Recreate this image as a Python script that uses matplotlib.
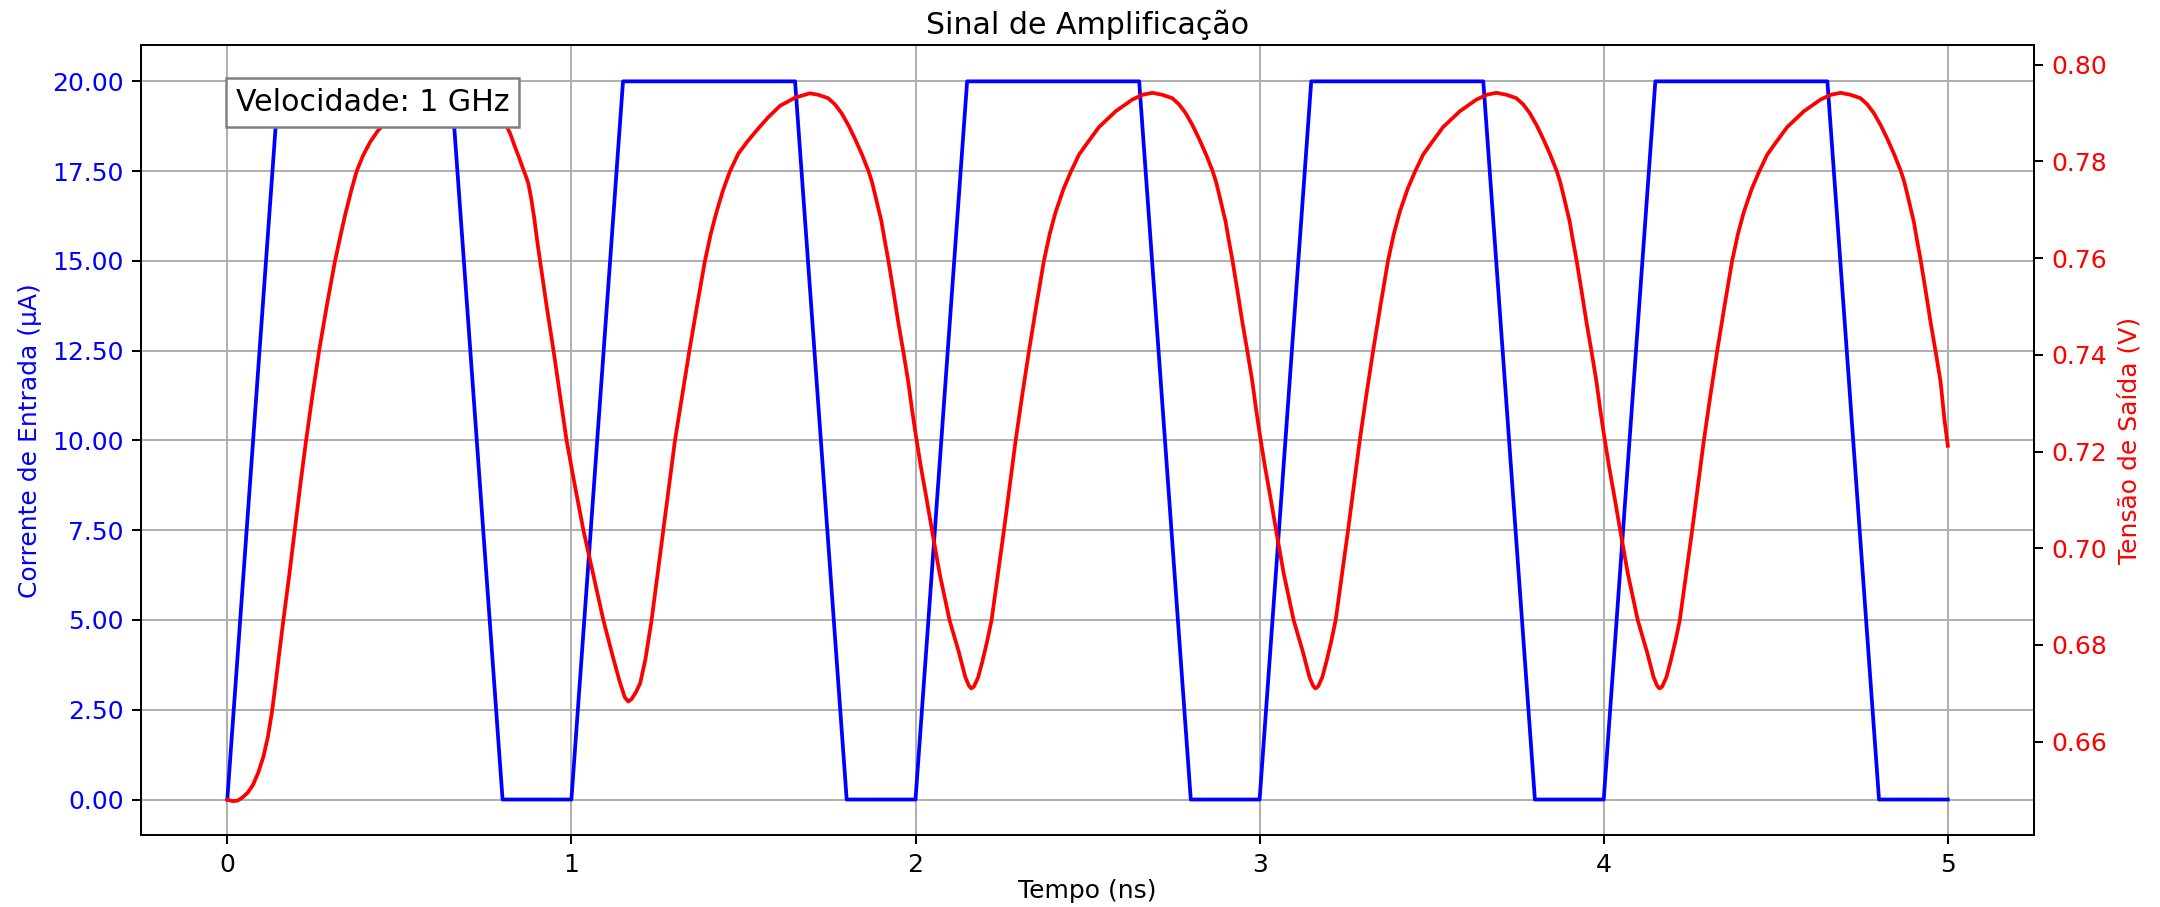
import matplotlib
matplotlib.use("Agg")
import matplotlib.pyplot as plt
from matplotlib.ticker import MultipleLocator, FormatStrFormatter

# ---- input current (trapezoidal pulses), µA vs ns ----
current_t = [0.0, 0.15, 0.65, 0.80, 1.0, 1.15, 1.65, 1.80, 2.0, 2.15, 2.65, 2.80,
             3.0, 3.15, 3.65, 3.80, 4.0, 4.15, 4.65, 4.80, 5.0]
current_i = [0, 20, 20, 0, 0, 20, 20, 0, 0, 20, 20, 0,
             0, 20, 20, 0, 0, 20, 20, 0, 0]

# ---- output voltage (V), one list per period ----
volt_t_p1 = [0.000, 0.015, 0.030, 0.045, 0.060, 0.075, 0.090, 0.105, 0.118, 0.130,
             0.140, 0.150, 0.163, 0.180, 0.196, 0.212, 0.229, 0.248, 0.267, 0.290,
             0.313, 0.330, 0.343, 0.360, 0.376, 0.395, 0.415, 0.436, 0.458, 0.480,
             0.500, 0.525, 0.550, 0.575, 0.600, 0.625, 0.650, 0.675, 0.700, 0.725,
             0.750, 0.780, 0.807, 0.822, 0.835, 0.848, 0.860, 0.868, 0.875, 0.883,
             0.892, 0.900, 0.909, 0.928, 0.948, 0.967, 0.986]
volt_v_p1 = [0.6480, 0.6477, 0.6478, 0.6485, 0.6495, 0.6511, 0.6536, 0.6569, 0.6610, 0.6662,
             0.6718, 0.6777, 0.6851, 0.6944, 0.7037, 0.7130, 0.7223, 0.7319, 0.7409, 0.7505,
             0.7594, 0.7650, 0.7691, 0.7739, 0.7780, 0.7813, 0.7840, 0.7862, 0.7880, 0.7900,
             0.7917, 0.7932, 0.7945, 0.7955, 0.7960, 0.7961, 0.7957, 0.7951, 0.7942, 0.7930,
             0.7917, 0.7900, 0.7880, 0.7858, 0.7832, 0.7808, 0.7784, 0.7769, 0.7754, 0.7724,
             0.7683, 0.7639, 0.7594, 0.7501, 0.7409, 0.7316, 0.7223]

volt_t_p2 = [1.010, 1.035, 1.064, 1.093, 1.120, 1.140, 1.155, 1.165, 1.175, 1.188,
             1.200, 1.215, 1.233, 1.250, 1.267, 1.284, 1.301, 1.322, 1.343, 1.365,
             1.388, 1.405, 1.420, 1.440, 1.461, 1.485, 1.510, 1.538, 1.570, 1.606,
             1.650, 1.693, 1.717, 1.746, 1.766, 1.785, 1.805, 1.824, 1.844, 1.863,
             1.873, 1.882, 1.891, 1.901, 1.910, 1.920, 1.935, 1.950, 1.965, 1.979,
             1.990]
volt_v_p2 = [0.7130, 0.7037, 0.6944, 0.6851, 0.6777, 0.6725, 0.6692, 0.6683, 0.6688, 0.6703,
             0.6721, 0.6770, 0.6851, 0.6944, 0.7037, 0.7130, 0.7223, 0.7316, 0.7409, 0.7501,
             0.7594, 0.7650, 0.7691, 0.7739, 0.7780, 0.7816, 0.7840, 0.7864, 0.7890, 0.7915,
             0.7932, 0.7941, 0.7938, 0.7931, 0.7918, 0.7900, 0.7875, 0.7847, 0.7815, 0.7781,
             0.7759, 0.7733, 0.7706, 0.7676, 0.7639, 0.7600, 0.7535, 0.7467, 0.7405, 0.7344,
             0.7286]

volt_t_p3 = [2.000, 2.015, 2.030, 2.046, 2.070, 2.099, 2.126, 2.145, 2.155, 2.162,
             2.170, 2.182, 2.194, 2.208, 2.221, 2.239, 2.257, 2.274, 2.291, 2.310,
             2.330, 2.351, 2.373, 2.390, 2.407, 2.430, 2.451, 2.475, 2.494, 2.533,
             2.582, 2.630, 2.660, 2.688, 2.717, 2.746, 2.766, 2.785, 2.805, 2.824,
             2.844, 2.863, 2.873, 2.882, 2.891, 2.901, 2.910, 2.920, 2.935, 2.950,
             2.965, 2.979, 2.990]
volt_v_p3 = [0.7238, 0.7171, 0.7111, 0.7045, 0.6948, 0.6851, 0.6785, 0.6733, 0.6716, 0.6710,
             0.6714, 0.6733, 0.6765, 0.6807, 0.6851, 0.6944, 0.7037, 0.7130, 0.7223, 0.7316,
             0.7409, 0.7501, 0.7594, 0.7650, 0.7695, 0.7743, 0.7778, 0.7814, 0.7833, 0.7871,
             0.7904, 0.7928, 0.7938, 0.7942, 0.7938, 0.7931, 0.7918, 0.7900, 0.7875, 0.7847,
             0.7815, 0.7781, 0.7759, 0.7733, 0.7706, 0.7676, 0.7639, 0.7600, 0.7535, 0.7467,
             0.7405, 0.7344, 0.7286]

volt_t_p4 = [3.000, 3.015, 3.030, 3.046, 3.070, 3.099, 3.126, 3.145, 3.155, 3.162,
             3.170, 3.182, 3.194, 3.208, 3.221, 3.239, 3.257, 3.274, 3.291, 3.310,
             3.330, 3.351, 3.373, 3.390, 3.407, 3.430, 3.451, 3.475, 3.494, 3.533,
             3.582, 3.630, 3.660, 3.688, 3.717, 3.746, 3.766, 3.785, 3.805, 3.824,
             3.844, 3.863, 3.873, 3.882, 3.891, 3.901, 3.910, 3.920, 3.935, 3.950,
             3.965, 3.979, 3.990]
volt_v_p4 = [0.7238, 0.7171, 0.7111, 0.7045, 0.6948, 0.6851, 0.6785, 0.6733, 0.6716, 0.6710,
             0.6714, 0.6733, 0.6765, 0.6807, 0.6851, 0.6944, 0.7037, 0.7130, 0.7223, 0.7316,
             0.7409, 0.7501, 0.7594, 0.7650, 0.7695, 0.7743, 0.7778, 0.7814, 0.7833, 0.7871,
             0.7904, 0.7928, 0.7938, 0.7942, 0.7938, 0.7931, 0.7918, 0.7900, 0.7875, 0.7847,
             0.7815, 0.7781, 0.7759, 0.7733, 0.7706, 0.7676, 0.7639, 0.7600, 0.7535, 0.7467,
             0.7405, 0.7344, 0.7286]

volt_t_p5 = [4.000, 4.015, 4.030, 4.046, 4.070, 4.099, 4.126, 4.145, 4.155, 4.162,
             4.170, 4.182, 4.194, 4.208, 4.221, 4.239, 4.257, 4.274, 4.291, 4.310,
             4.330, 4.351, 4.373, 4.390, 4.407, 4.430, 4.451, 4.475, 4.494, 4.533,
             4.582, 4.630, 4.660, 4.688, 4.717, 4.746, 4.766, 4.785, 4.805, 4.824,
             4.844, 4.863, 4.873, 4.882, 4.891, 4.901, 4.910, 4.920, 4.935, 4.950,
             4.965, 4.979, 4.990, 5.000]
volt_v_p5 = [0.7238, 0.7171, 0.7111, 0.7045, 0.6948, 0.6851, 0.6785, 0.6733, 0.6716, 0.6710,
             0.6714, 0.6733, 0.6765, 0.6807, 0.6851, 0.6944, 0.7037, 0.7130, 0.7223, 0.7316,
             0.7409, 0.7501, 0.7594, 0.7650, 0.7695, 0.7743, 0.7778, 0.7814, 0.7833, 0.7871,
             0.7904, 0.7928, 0.7938, 0.7942, 0.7938, 0.7931, 0.7918, 0.7900, 0.7875, 0.7847,
             0.7815, 0.7781, 0.7759, 0.7733, 0.7706, 0.7676, 0.7639, 0.7600, 0.7535, 0.7467,
             0.7405, 0.7344, 0.7267, 0.7212]

volt_t = volt_t_p1 + volt_t_p2 + volt_t_p3 + volt_t_p4 + volt_t_p5
volt_v = volt_v_p1 + volt_v_p2 + volt_v_p3 + volt_v_p4 + volt_v_p5

x_ticks = [0, 1, 2, 3, 4, 5]

fig = plt.figure(figsize=(12, 907 / 180), dpi=180)
ax = fig.add_axes([0.0654, 0.0789, 0.8762, 0.8710])

ax.plot(current_t, current_i, color='blue', linewidth=1.5)
ax.set_xlim(-0.25, 5.25)
ax.set_ylim(-1, 21)
ax.set_xticks(x_ticks)
ax.yaxis.set_major_locator(MultipleLocator(2.5))
ax.yaxis.set_major_formatter(FormatStrFormatter('%.2f'))
ax.set_xlabel('Tempo (ns)', fontsize=10, labelpad=1)
ax.set_ylabel('Corrente de Entrada (µA)', color='blue', fontsize=10)
ax.tick_params(axis='y', labelcolor='blue', labelsize=10)
ax.tick_params(axis='x', labelsize=10)
ax.grid(True)
ax.set_title('Sinal de Amplificação', fontsize=12, pad=4.5)

ax2 = ax.twinx()
ax2.plot(volt_t, volt_v, color='red', linewidth=1.5)
ax2.set_ylim(0.6406, 0.8040)
ax2.yaxis.set_major_locator(MultipleLocator(0.02))
ax2.yaxis.set_major_formatter(FormatStrFormatter('%.2f'))
ax2.set_ylabel('Tensão de Saída (V)', color='red', fontsize=10)
ax2.tick_params(axis='y', labelcolor='red', labelsize=10)

ax2.text(0.05, 0.9465, 'Velocidade: 1 GHz', transform=ax2.transAxes, fontsize=12,
         va='top', ha='left',
         bbox=dict(facecolor='white', edgecolor='gray'))

fig.savefig('out.png', dpi=180)
